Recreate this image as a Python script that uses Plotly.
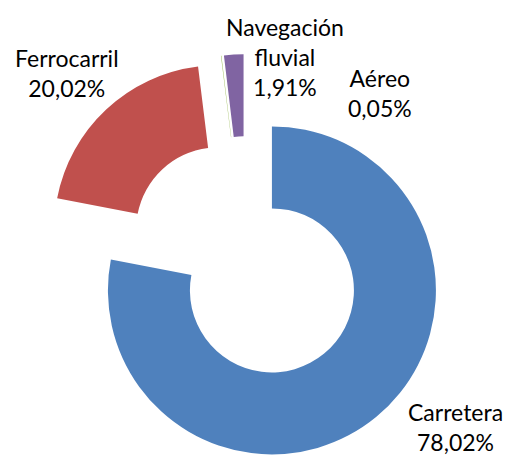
import plotly.graph_objects as go
import math

# ---- data ----
categories = ["Carretera", "Ferrocarril", "Aéreo", "Navegación fluvial"]
shares = [78.02, 20.02, 0.05, 1.91]
colors = ["#4F81BD", "#C0504D", "#9BBB59", "#8064A2"]

# ---- layout constants (pixels) ----
W, H = 506, 455
center = (246.0, 259.0)   # un-exploded centre of the doughnut
radius = 164.0
explode = 40.7            # explosion distance of every slice
hole = 0.5

label_pos = [(455, 427), (67, 73), (380, 93), (285, 57)]
font = dict(family="Lato, 'Open Sans', sans-serif", size=23, color="#000000")

fig = go.Figure()
total = sum(shares)
cum = 0.0
for i, (name, v) in enumerate(zip(categories, shares)):
    mid = (cum + v / 2) / total * 2 * math.pi
    cum += v
    cx = center[0] + explode * math.sin(mid)
    cy = center[1] - explode * math.cos(mid)
    dom_x = [max(0, (cx - radius) / W), min(1, (cx + radius) / W)]
    dom_y = [max(0, 1 - (cy + radius) / H), min(1, 1 - (cy - radius) / H)]
    slice_colors = [c if j == i else "rgba(0,0,0,0)" for j, c in enumerate(colors)]
    fig.add_trace(go.Pie(
        labels=categories, values=shares, sort=False, direction="clockwise",
        rotation=0, hole=hole, textinfo="none", showlegend=False,
        marker=dict(colors=slice_colors, line=dict(width=0)),
        domain=dict(x=dom_x, y=dom_y), hoverinfo="label+percent",
    ))

for (name, v), (px, py) in zip(zip(categories, shares), label_pos):
    txt = name.replace(" ", "<br>") + "<br>" + f"{v:.2f}".replace(".", ",") + "%"
    fig.add_annotation(x=px / W, y=1 - py / H, xref="paper", yref="paper",
                       text=txt, showarrow=False, xanchor="center", yanchor="middle",
                       font=font, align="center")

fig.update_layout(width=W, height=H, margin=dict(l=0, r=0, t=0, b=0),
                  paper_bgcolor="white", plot_bgcolor="white")
fig.write_html("out.html", config={"displayModeBar": False},
               post_script="document.body.style.margin='0';document.body.style.overflow='hidden';")
